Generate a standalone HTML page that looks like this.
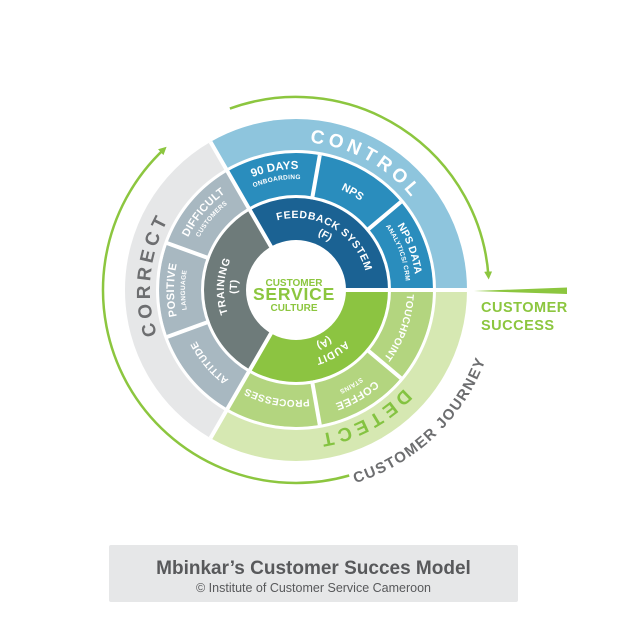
<!DOCTYPE html>
<html><head><meta charset="utf-8"><style>
html,body{margin:0;padding:0;background:#fff;}
svg{display:block;font-family:"Liberation Sans",sans-serif;font-weight:bold;}
</style></head><body>
<svg width="640" height="624" viewBox="0 0 640 624" xmlns="http://www.w3.org/2000/svg">
<defs>
<marker id="ah" markerWidth="8" markerHeight="8" refX="5" refY="4" orient="auto" markerUnits="userSpaceOnUse">
<path d="M0,0 L8,4 L0,8 Z" fill="#8cc63f"/></marker>
<path id="pControl" d="M231.1,157 A148 148 0 0 1 443.2,274.5"/>
<path id="pCorrect" d="M200.2,400.2 A146 146 0 0 1 225.2,162.3"/>
<path id="pDetect" d="M440.9,307.8 A146 146 0 0 1 229.7,420.1"/>
<path id="pJourney" d="M294.2,492 A202 202 0 0 0 497.8,298.8"/>
<path id="pF1" d="M260,227.6 A72 72 0 0 1 368,290"/>
<path id="pF2" d="M264.7,240 A59 59 0 0 1 355,287.9"/>
<path id="pT1" d="M251.7,346.7 A72 72 0 0 1 257.8,228.9"/>
<path id="pT2" d="M259.7,336.5 A59 59 0 0 1 264.7,240"/>
<path id="pA1" d="M366.7,296.2 A71 71 0 0 1 266,354.3"/>
<path id="pA2" d="M352.6,296.9 A57 57 0 0 1 270.1,340.8"/>
<path id="p90a" d="M191.2,229.5 A121 121 0 0 1 373.8,197.3"/>
<path id="p90b" d="M199.9,234.5 A111 111 0 0 1 367.4,205"/>
<path id="pNps" d="M258.4,186.6 A110 110 0 0 1 404.3,270.9"/>
<path id="pNd1" d="M337,177.2 A120 120 0 0 1 399.9,350"/>
<path id="pNd2" d="M333.6,186.6 A110 110 0 0 1 391.3,345"/>
<path id="pDif1" d="M177.8,310.8 A120 120 0 0 1 296,170"/>
<path id="pDif2" d="M187.7,309.1 A110 110 0 0 1 296,180"/>
<path id="pPos1" d="M217.6,383.5 A122 122 0 0 1 217.6,196.5"/>
<path id="pPos2" d="M224.6,375 A111 111 0 0 1 224.6,205"/>
<path id="pAtt" d="M296,402 A112 112 0 0 1 185.7,270.6"/>
<path id="pProc" d="M366.7,374.3 A110 110 0 0 1 200.7,345"/>
<path id="pCof1" d="M414.2,310.8 A120 120 0 0 1 255,402.8"/>
<path id="pCof2" d="M403.3,308.9 A109 109 0 0 1 258.7,392.4"/>
<path id="pTouch" d="M392.1,234.5 A111 111 0 0 1 334,394.3"/>
</defs>

<path d="M296,290 L467,290 A171 171 0 0 0 210.5,141.9 Z" fill="#8ec5dd"/>
<path d="M296,290 L210.5,141.9 A171 171 0 0 0 210.5,438.1 Z" fill="#e6e7e8"/>
<path d="M296,290 L210.5,438.1 A171 171 0 0 0 467,290 Z" fill="#d6e8b2"/>
<path d="M296,290 L433,290 A137 137 0 0 0 227.5,171.4 Z" fill="#2a8dbd"/>
<path d="M296,290 L227.5,171.4 A137 137 0 0 0 227.5,408.6 Z" fill="#a8b8c1"/>
<path d="M296,290 L227.5,408.6 A137 137 0 0 0 433,290 Z" fill="#b3d57f"/>
<g stroke="#fff" stroke-width="4">
<line x1="296" y1="290" x2="400.9" y2="201.9"/>
<line x1="296" y1="290" x2="319.8" y2="155.1"/>
<line x1="296" y1="290" x2="167.2" y2="243.1"/>
<line x1="296" y1="290" x2="167.2" y2="336.9"/>
<line x1="296" y1="290" x2="319.8" y2="424.9"/>
<line x1="296" y1="290" x2="400.9" y2="378.1"/>
</g>
<circle cx="296" cy="290" r="138.5" fill="none" stroke="#fff" stroke-width="3"/>
<path d="M296,290 L388,290 A92 92 0 0 0 250,210.3 Z" fill="#1b6293"/>
<path d="M296,290 L250,210.3 A92 92 0 0 0 250,369.7 Z" fill="#6e7b7a"/>
<path d="M296,290 L250,369.7 A92 92 0 0 0 388,290 Z" fill="#8cc441"/>
<circle cx="296" cy="290" r="93.5" fill="none" stroke="#fff" stroke-width="3"/>
<g stroke="#fff" stroke-width="4">
<line x1="296" y1="290" x2="480" y2="290"/>
<line x1="296" y1="290" x2="210.5" y2="141.9"/>
<line x1="296" y1="290" x2="210.5" y2="438.1"/>
</g>
<circle cx="296" cy="290" r="50" fill="#fff"/>

<path d="M229.9,108.6 A193 193 0 0 1 488.5,276.5" fill="none" stroke="#8cc63f" stroke-width="2.5" marker-end="url(#ah)"/>
<path d="M349.2,475.5 A193 193 0 0 1 164.4,148.8" fill="none" stroke="#8cc63f" stroke-width="2.5" marker-end="url(#ah)"/>
<polygon points="474,291 567,287.5 567,294" fill="#8cc63f"/>
<text x="481" y="312" font-size="14.5" fill="#8cc63f" letter-spacing="0.5">CUSTOMER</text>
<text x="481" y="330" font-size="14.5" fill="#8cc63f" letter-spacing="0.5">SUCCESS</text>

<g text-anchor="middle">
<text font-size="19" fill="#fff" letter-spacing="4"><textPath href="#pControl" startOffset="50%">CONTROL</textPath></text>
<text font-size="19" fill="#6d6e70" letter-spacing="4"><textPath href="#pCorrect" startOffset="50%">CORRECT</textPath></text>
<text font-size="19" fill="#84c341" letter-spacing="4"><textPath href="#pDetect" startOffset="50%">DETECT</textPath></text>
<text font-size="15" fill="#6d6e70" letter-spacing="1.5"><textPath href="#pJourney" startOffset="50%">CUSTOMER JOURNEY</textPath></text>

<g fill="#fff">
<text font-size="10.5" letter-spacing="0.6"><textPath href="#pF1" startOffset="50%">FEEDBACK SYSTEM</textPath></text>
<text font-size="10.5"><textPath href="#pF2" startOffset="50%">(F)</textPath></text>
<text font-size="10.5" letter-spacing="0.6"><textPath href="#pT1" startOffset="50%">TRAINING</textPath></text>
<text font-size="10.5"><textPath href="#pT2" startOffset="50%">(T)</textPath></text>
<text font-size="10.5" letter-spacing="0.6"><textPath href="#pA1" startOffset="50%">AUDIT</textPath></text>
<text font-size="10.5"><textPath href="#pA2" startOffset="50%">(A)</textPath></text>
<text font-size="11.5"><textPath href="#p90a" startOffset="50%">90 DAYS</textPath></text>
<text font-size="6.5" letter-spacing="0.3"><textPath href="#p90b" startOffset="50%">ONBOARDING</textPath></text>
<text font-size="11"><textPath href="#pNps" startOffset="50%">NPS</textPath></text>
<text font-size="10.5"><textPath href="#pNd1" startOffset="50%">NPS DATA</textPath></text>
<text font-size="6.5" letter-spacing="0.3"><textPath href="#pNd2" startOffset="50%">ANALYTICS/ CRM</textPath></text>
<text font-size="11" letter-spacing="0.3"><textPath href="#pDif1" startOffset="50%">DIFFICULT</textPath></text>
<text font-size="6.5" letter-spacing="0.3"><textPath href="#pDif2" startOffset="50%">CUSTOMERS</textPath></text>
<text font-size="11" letter-spacing="0.3"><textPath href="#pPos1" startOffset="50%">POSITIVE</textPath></text>
<text font-size="6.5" letter-spacing="0.3"><textPath href="#pPos2" startOffset="50%">LANGUAGE</textPath></text>
<text font-size="10" letter-spacing="0.3"><textPath href="#pAtt" startOffset="50%">ATTITUDE</textPath></text>
<text font-size="10" letter-spacing="0.3"><textPath href="#pProc" startOffset="50%">PROCESSES</textPath></text>
<text font-size="11" letter-spacing="0.3"><textPath href="#pCof1" startOffset="50%">COFFEE</textPath></text>
<text font-size="6.5" letter-spacing="0.3"><textPath href="#pCof2" startOffset="50%">STAINS</textPath></text>
<text font-size="10" letter-spacing="0.3"><textPath href="#pTouch" startOffset="50%">TOUCHPOINT</textPath></text>
</g>

<g fill="#8cc63f">
<text x="294" y="286" font-size="10">CUSTOMER</text>
<text x="294" y="300" font-size="17.5" letter-spacing="0.8">SERVICE</text>
<text x="294" y="311" font-size="10">CULTURE</text>
</g>

<rect x="109" y="545" width="409" height="57" rx="2" fill="#e6e7e8"/>
<text x="313.5" y="574" font-size="19" fill="#58595b">Mbinkar’s Customer Succes Model</text>
<text x="313.5" y="592" font-size="12.5" font-weight="normal" fill="#58595b">© Institute of Customer Service Cameroon</text>
</g>
</svg>
</body></html>
